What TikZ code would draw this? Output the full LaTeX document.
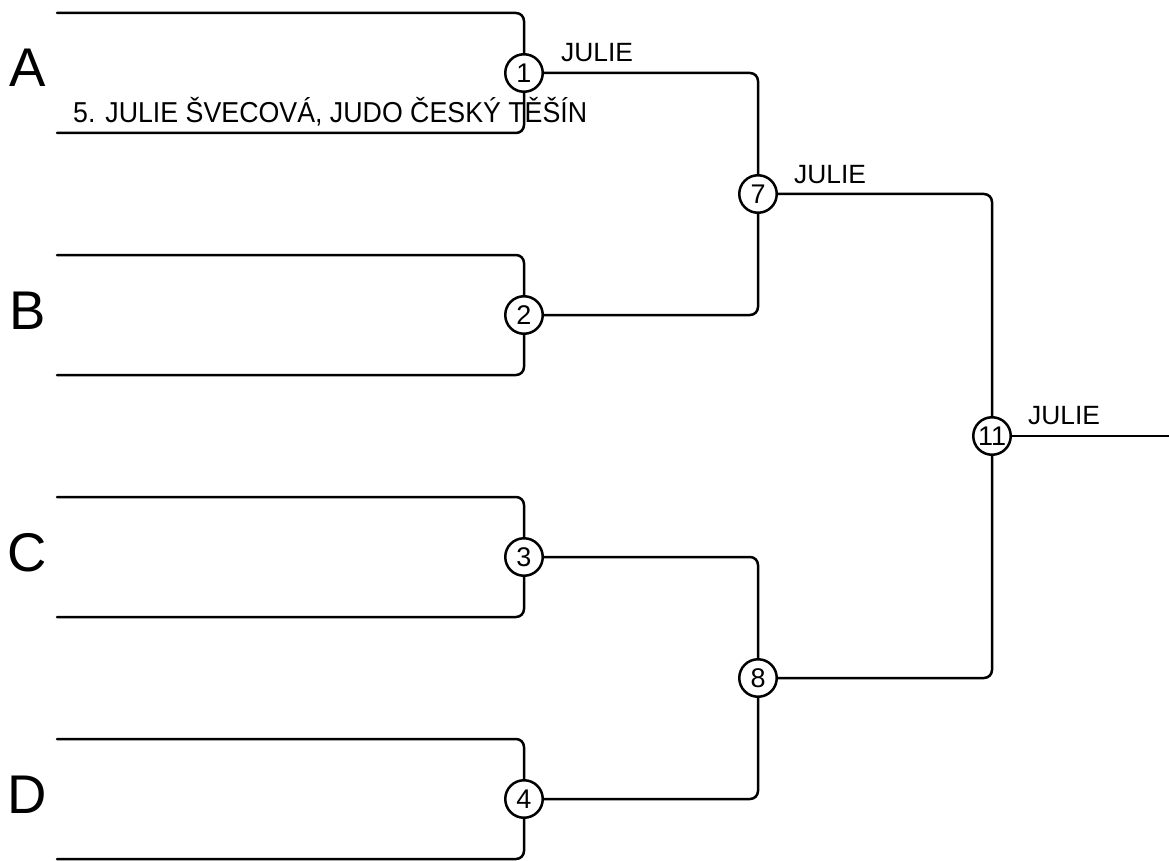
\documentclass[tikz,border=0pt]{standalone}
\usepackage{fontspec}
\setmainfont{Liberation Sans}
\begin{document}
\begin{tikzpicture}[x=1pt,y=-1pt,
  wire/.style={line width=2.5pt,rounded corners=8pt,line cap=round},
  match/.style={circle,draw,line width=2.5pt,minimum size=37.5pt,inner sep=0pt,fill=white,font=\fontsize{27}{27}\selectfont},
  pool/.style={anchor=base,font=\fontsize{54.5}{54.5}\selectfont,inner sep=0pt},
  winner/.style={anchor=base west,font=\fontsize{26.4}{26.4}\selectfont,inner sep=0pt}]
\useasboundingbox (0,0) rectangle (1169,861);
% matches
\node[match] (m1) at (524,73) {1};
\node[match] (m2) at (524,315) {2};
\node[match] (m3) at (524,557) {3};
\node[match] (m4) at (524,799) {4};
\node[match] (m7) at (758,194) {7};
\node[match] (m8) at (758,678) {8};
\node[match] (m11) at (992,436) {11};
% bracket ends
\coordinate (a1) at (57,13);  \coordinate (a2) at (57,133);
\coordinate (b1) at (57,255); \coordinate (b2) at (57,375);
\coordinate (c1) at (57,497); \coordinate (c2) at (57,617);
\coordinate (d1) at (57,739); \coordinate (d2) at (57,859);
\coordinate (fin) at (1169,436);
% first round
\draw[wire] (a1) -- (a1 -| m1) -- (m1.north);
\draw[wire] (a2) -- (a2 -| m1) -- (m1.south);
\draw[wire] (b1) -- (b1 -| m2) -- (m2.north);
\draw[wire] (b2) -- (b2 -| m2) -- (m2.south);
\draw[wire] (c1) -- (c1 -| m3) -- (m3.north);
\draw[wire] (c2) -- (c2 -| m3) -- (m3.south);
\draw[wire] (d1) -- (d1 -| m4) -- (m4.north);
\draw[wire] (d2) -- (d2 -| m4) -- (m4.south);
% second round
\draw[wire] (m1.east) -- (m1 -| m7) -- (m7.north);
\draw[wire] (m2.east) -- (m2 -| m7) -- (m7.south);
\draw[wire] (m3.east) -- (m3 -| m8) -- (m8.north);
\draw[wire] (m4.east) -- (m4 -| m8) -- (m8.south);
% final
\draw[wire] (m7.east) -- (m7 -| m11) -- (m11.north);
\draw[wire] (m8.east) -- (m8 -| m11) -- (m11.south);
\draw[line width=2.5pt] (m11.east) -- (fin);
% pool letters
\node[pool] (pa) at (27.5,87) {A};
\node[pool] (pb) at (27.5,329) {B};
\node[pool] (pc) at (27.5,571) {C};
\node[pool] (pd) at (27.5,813) {D};
% labels
\node[winner] (w1) at (561,62) {JULIE};
\node[winner] (w7) at (794,184) {JULIE};
\node[winner] (w11) at (1028,424) {JULIE};
\node[winner,font=\fontsize{28.8}{28.8}\selectfont] (res) at (73,123) {\resizebox{514pt}{\height}{5. JULIE ŠVECOVÁ, JUDO ČESKÝ TĚŠÍN}};
\end{tikzpicture}
\end{document}
